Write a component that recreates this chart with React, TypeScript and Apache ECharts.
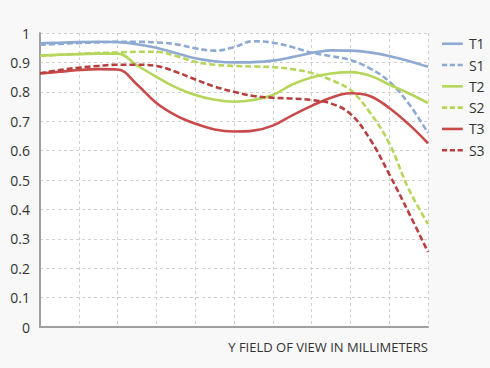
import React, { useEffect, useRef } from "react";
import * as echarts from "echarts";

const xs = [0, 0.5, 1, 1.5, 2, 2.5, 3, 3.5, 4, 4.5, 5, 5.5, 6, 6.5, 7, 7.5, 8, 8.5, 9, 9.5, 10];
const T1 = [0.965, 0.967, 0.969, 0.97, 0.969, 0.962, 0.95, 0.932, 0.914, 0.904, 0.9, 0.901, 0.906, 0.918, 0.932, 0.941, 0.94, 0.934, 0.922, 0.905, 0.885];
const S1 = [0.96, 0.963, 0.966, 0.968, 0.97, 0.97, 0.968, 0.962, 0.948, 0.94, 0.952, 0.972, 0.967, 0.952, 0.933, 0.921, 0.908, 0.88, 0.835, 0.76, 0.66];
const T2 = [0.923, 0.926, 0.928, 0.93, 0.93, 0.89, 0.851, 0.815, 0.789, 0.773, 0.766, 0.772, 0.789, 0.825, 0.849, 0.862, 0.867, 0.855, 0.825, 0.795, 0.762];
const S2 = [0.922, 0.926, 0.929, 0.932, 0.934, 0.936, 0.936, 0.922, 0.902, 0.892, 0.888, 0.886, 0.884, 0.877, 0.864, 0.84, 0.806, 0.73, 0.625, 0.47, 0.35];
const T3 = [0.862, 0.868, 0.874, 0.877, 0.876, 0.825, 0.762, 0.72, 0.692, 0.672, 0.665, 0.668, 0.685, 0.72, 0.752, 0.78, 0.795, 0.786, 0.745, 0.69, 0.625];
const S3 = [0.863, 0.874, 0.882, 0.888, 0.892, 0.892, 0.888, 0.868, 0.842, 0.818, 0.8, 0.786, 0.78, 0.777, 0.772, 0.76, 0.725, 0.64, 0.52, 0.39, 0.255];

const seriesNames = ["T1", "S1", "T2", "S2", "T3", "S3"];
const seriesValues = [T1, S1, T2, S2, T3, S3];
const seriesColors = ["#8eaad2", "#8eaad2", "#b5d65b", "#b5d65b", "#c94a4a", "#b5403f"];
const xAxisTitle = "Y FIELD OF VIEW IN MILLIMETERS";

const SOLID_ICON = "path://M0,0h24v3h-24z";
const DASH_ICON = "path://M0,0h6v3h-6zM9,0h6v3h-6zM18,0h6v3h-6z";

export default function App() {
  const ref = useRef<HTMLDivElement>(null);
  useEffect(() => {
    if (!ref.current) return;
    const chart = echarts.init(ref.current, null, { renderer: "svg" });
    const font = "'Open Sans', sans-serif";
    chart.setOption({
      animation: false,
      backgroundColor: "#f8f8f8",
      textStyle: { fontFamily: font },
      grid: {
        left: 40,
        right: 62,
        top: 33,
        bottom: 41,
        show: true,
        backgroundColor: "#ffffff",
        borderWidth: 0,
      },
      legend: {
        orient: "vertical",
        left: 437,
        top: 30,
        itemWidth: 23,
        itemHeight: 2.6,
        itemGap: 3.8,
        textStyle: { fontSize: 14, color: "#333", fontFamily: font, padding: [0, 0, 0, 0], lineHeight: 17.5 },
        data: seriesNames.map((n) => ({ name: n, icon: n.startsWith("S") ? DASH_ICON : SOLID_ICON })),
      },
      xAxis: {
        type: "value",
        min: 0,
        max: 10,
        interval: 1,
        axisLabel: { show: false },
        axisTick: { show: false },
        axisLine: { show: true, lineStyle: { color: "#a0a0a0", width: 2 } },
        splitLine: { show: true, lineStyle: { color: "#d0d0d0", type: [3, 3], width: 1 } },
      },
      yAxis: {
        type: "value",
        min: 0,
        max: 1,
        interval: 0.1,
        axisLabel: {
          color: "#333",
          fontSize: 14,
          margin: 10,
          fontFamily: font,
          formatter: (v: number) => String(Math.round(v * 10) / 10),
        },
        axisTick: { show: false },
        axisLine: { show: true, lineStyle: { color: "#a0a0a0", width: 2 } },
        splitLine: { show: true, lineStyle: { color: "#d0d0d0", type: [3, 3], width: 1 } },
      },
      graphic: [
        {
          type: "text",
          x: 428,
          y: 347,
          style: {
            text: xAxisTitle,
            align: "right",
            verticalAlign: "middle",
            fontSize: 13,
            fontFamily: font,
            fill: "#333",
          },
        },
      ],
      series: seriesNames.map((name, i) => ({
        name,
        type: "line",
        smooth: 0.4,
        symbol: "none",
        color: seriesColors[i],
        itemStyle: { color: seriesColors[i] },
        lineStyle: {
          color: seriesColors[i],
          width: 2.6,
          type: name.startsWith("S") ? [6, 3] : "solid",
        },
        data: xs.map((x, j) => [x, seriesValues[i][j]]),
      })),
    });
    return () => chart.dispose();
  }, []);
  return (
    <div
      ref={ref}
      style={{ position: "fixed", left: 0, top: 0, width: 490, height: 368 }}
    />
  );
}
